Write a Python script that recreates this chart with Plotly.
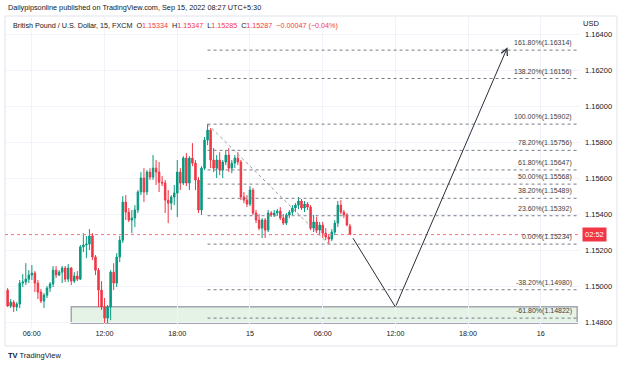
import plotly.graph_objects as go
import pandas as pd

# ---------------- data ----------------
opens = [1.14978,1.14889,1.14911,1.14884,1.14900,1.15017,1.15023,1.15039,1.15062,1.15073,
         1.15017,1.14967,1.14917,1.14950,1.14989,1.15012,1.15089,1.15062,1.15078,1.15101,
         1.15039,1.15101,1.15028,1.15056,1.15039,1.15218,1.15229,1.15234,1.15279,1.15162,
         1.15089,1.14978,1.14884,1.14822,1.14884,1.15078,1.15017,1.15162,1.15256,1.15468,
         1.15412,1.15368,1.15379,1.15424,1.15524,1.15602,1.15524,1.15635,1.15607,1.15657,
         1.15635,1.15579,1.15574,1.15479,1.15462,1.15496,1.15518,1.15635,1.15574,1.15713,
         1.15574,1.15713,1.15685,1.15591,1.15424,1.15657,1.15813,1.15869,1.15702,1.15657,
         1.15702,1.15646,1.15691,1.15730,1.15657,1.15685,1.15713,1.15691,1.15496,1.15479,
         1.15457,1.15535,1.15407,1.15368,1.15323,1.15368,1.15312,1.15407,1.15396,1.15407,
         1.15418,1.15379,1.15351,1.15396,1.15412,1.15435,1.15451,1.15474,1.15435,1.15457,
         1.15440,1.15323,1.15357,1.15312,1.15340,1.15295,1.15273,1.15262,1.15301,1.15351,
         1.15451,1.15412,1.15396,1.15334]
highs = [1.14989,1.14928,1.14922,1.14911,1.15034,1.15067,1.15128,1.15089,1.15117,1.15084,
         1.15034,1.14984,1.14961,1.15000,1.15023,1.15112,1.15112,1.15089,1.15112,1.15112,
         1.15123,1.15106,1.15078,1.15084,1.15229,1.15295,1.15279,1.15318,1.15295,1.15173,
         1.15101,1.15028,1.14934,1.14895,1.15089,1.15128,1.15184,1.15279,1.15501,1.15507,
         1.15435,1.15424,1.15451,1.15535,1.15635,1.15657,1.15646,1.15657,1.15730,1.15702,
         1.15691,1.15613,1.15591,1.15535,1.15507,1.15563,1.15702,1.15657,1.15724,1.15741,
         1.15724,1.15796,1.15702,1.15607,1.15668,1.15830,1.15902,1.15880,1.15769,1.15730,
         1.15746,1.15702,1.15758,1.15769,1.15702,1.15730,1.15746,1.15702,1.15524,1.15507,
         1.15557,1.15546,1.15424,1.15401,1.15379,1.15379,1.15424,1.15418,1.15424,1.15429,
         1.15440,1.15401,1.15407,1.15424,1.15451,1.15462,1.15496,1.15485,1.15474,1.15468,
         1.15451,1.15396,1.15385,1.15357,1.15357,1.15323,1.15290,1.15318,1.15368,1.15474,
         1.15479,1.15424,1.15407,1.15347]
lows = [1.14884,1.14878,1.14856,1.14861,1.14878,1.14995,1.15006,1.15017,1.15034,1.14967,
        1.14928,1.14906,1.14878,1.14934,1.14967,1.14995,1.15045,1.15056,1.15017,1.15023,
        1.15023,1.15006,1.15017,1.15028,1.15034,1.15190,1.15156,1.15201,1.15145,1.15062,
        1.14884,1.14867,1.14794,1.14794,1.14811,1.14978,1.14995,1.15134,1.15240,1.15368,
        1.15357,1.15295,1.15329,1.15407,1.15507,1.15468,1.15507,1.15591,1.15591,1.15563,
        1.15524,1.15557,1.15407,1.15351,1.15424,1.15451,1.15385,1.15535,1.15563,1.15557,
        1.15535,1.15668,1.15535,1.15407,1.15396,1.15646,1.15785,1.15657,1.15635,1.15602,
        1.15618,1.15602,1.15674,1.15635,1.15629,1.15657,1.15674,1.15479,1.15462,1.15440,
        1.15446,1.15396,1.15351,1.15312,1.15268,1.15268,1.15301,1.15385,1.15385,1.15390,
        1.15368,1.15340,1.15340,1.15379,1.15396,1.15412,1.15429,1.15424,1.15412,1.15424,
        1.15312,1.15301,1.15295,1.15284,1.15268,1.15256,1.15234,1.15251,1.15284,1.15329,
        1.15401,1.15379,1.15334,1.15285]
closes = [1.14889,1.14911,1.14884,1.14900,1.15017,1.15023,1.15039,1.15062,1.15073,1.15017,
          1.14967,1.14917,1.14950,1.14989,1.15012,1.15089,1.15062,1.15078,1.15101,1.15039,
          1.15101,1.15028,1.15056,1.15039,1.15218,1.15229,1.15234,1.15279,1.15162,1.15089,
          1.14978,1.14884,1.14822,1.14884,1.15078,1.15017,1.15162,1.15256,1.15468,1.15412,
          1.15368,1.15379,1.15424,1.15524,1.15602,1.15524,1.15635,1.15607,1.15657,1.15635,
          1.15579,1.15574,1.15479,1.15462,1.15496,1.15518,1.15635,1.15574,1.15713,1.15574,
          1.15713,1.15685,1.15591,1.15424,1.15657,1.15813,1.15869,1.15702,1.15657,1.15702,
          1.15646,1.15691,1.15730,1.15657,1.15685,1.15713,1.15691,1.15496,1.15479,1.15457,
          1.15535,1.15407,1.15368,1.15323,1.15368,1.15312,1.15407,1.15396,1.15407,1.15418,
          1.15379,1.15351,1.15396,1.15412,1.15435,1.15451,1.15474,1.15435,1.15457,1.15440,
          1.15323,1.15357,1.15312,1.15340,1.15295,1.15273,1.15262,1.15301,1.15351,1.15451,
          1.15412,1.15396,1.15340,1.15287]
first_bar = "2022-09-14 04:00"
times = pd.date_range(first_bar, periods=len(opens), freq="15min")

fib_pct = ["161.80%", "138.20%", "100.00%", "78.20%", "61.80%", "50.00%",
           "38.20%", "23.60%", "0.00%", "-38.20%", "-61.80%"]
fib_price = [1.16314, 1.16156, 1.15902, 1.15756, 1.15647, 1.15568,
             1.15489, 1.15392, 1.15234, 1.14980, 1.14822]
fib_start, fib_end = "2022-09-14 20:30", "2022-09-16 03:00"
trend_times = ["2022-09-14 20:30", "2022-09-15 06:30"]
trend_prices = [1.15902, 1.15234]

zone_times = ["2022-09-14 09:15", "2022-09-16 03:00"]
zone_prices = [1.14794, 1.14886]

path_times = ["2022-09-15 08:30", "2022-09-15 12:00", "2022-09-15 21:15"]
path_prices = [1.15267, 1.14884, 1.16330]

x_tick_vals = ["2022-09-14 06:00", "2022-09-14 12:00", "2022-09-14 18:00", "2022-09-15 00:00",
               "2022-09-15 06:00", "2022-09-15 12:00", "2022-09-15 18:00", "2022-09-16 00:00"]
x_tick_text = ["06:00", "12:00", "18:00", "15", "06:00", "12:00", "18:00", "16"]
y_tick_vals = [1.148, 1.150, 1.152, 1.154, 1.156, 1.158, 1.160, 1.162, 1.164]
y_tick_text = ["1.14800", "1.15000", "1.15200", "1.15400", "1.15600", "1.15800",
               "1.16000", "1.16200", "1.16400"]

last_price = 1.15287
countdown = "02:52"

# ---------------- figure ----------------
W, H = 625, 367
def px(x): return x / W
def py(y): return 1 - y / H

UP, DN = "#089981", "#f23645"
FONT = "Liberation Sans"
TXT = "#131722"

fig = go.Figure()
fig.add_trace(go.Candlestick(
    x=times, open=opens, high=highs, low=lows, close=closes,
    increasing=dict(line=dict(color=UP, width=1), fillcolor=UP),
    decreasing=dict(line=dict(color=DN, width=1), fillcolor=DN),
    whiskerwidth=0, hoverinfo="skip", showlegend=False))

shapes = []
shapes.append(dict(type="rect", xref="paper", yref="paper", x0=px(5), x1=px(617),
                   y0=py(346), y1=py(16), line=dict(color="#e0e3eb", width=1), layer="below"))
shapes.append(dict(type="rect", xref="x", yref="y", x0=zone_times[0], x1=zone_times[1],
                   y0=zone_prices[0], y1=zone_prices[1],
                   fillcolor="rgba(76,175,80,0.15)", line=dict(color="#a3a6af", width=1.5),
                   layer="below"))
shapes.append(dict(type="line", xref="paper", yref="y", x0=px(5), x1=px(580),
                   y0=last_price, y1=last_price, line=dict(color="#f7707c", width=1, dash="dot")))
for p in fib_price:
    shapes.append(dict(type="line", xref="x", yref="y", x0=fib_start, x1=fib_end,
                       y0=p, y1=p, line=dict(color="#787b86", width=1, dash="dot")))
shapes.append(dict(type="line", xref="x", yref="y", x0=trend_times[0], x1=trend_times[1],
                   y0=trend_prices[0], y1=trend_prices[1],
                   line=dict(color="#9598a1", width=1, dash="dot")))
shapes.append(dict(type="line", xref="x", yref="y", x0=path_times[0], x1=path_times[1],
                   y0=path_prices[0], y1=path_prices[1], line=dict(color="#2a2e39", width=1)))

ann = []
for lab, p in zip(fib_pct, fib_price):
    ann.append(dict(xref="paper", yref="y", x=px(574), y=p, text=f"{lab}({p:.5f})",
                    xanchor="right", yanchor="bottom", yshift=1, showarrow=False,
                    font=dict(family=FONT, size=7, color="#3a3d45")))
ann.append(dict(xref="x", yref="y", axref="x", ayref="y", x=path_times[2], y=path_prices[2],
                ax=path_times[1], ay=path_prices[1], showarrow=True, arrowhead=5,
                arrowsize=1.3, arrowwidth=1, arrowcolor="#2a2e39", text=""))
ann.append(dict(xref="paper", yref="paper", x=px(6), y=py(8),
                text="Dailypipsonline published on TradingView.com, Sep 15, 2022 08:27 UTC+5:30",
                xanchor="left", yanchor="middle", showarrow=False,
                font=dict(family=FONT, size=7.3, color=TXT)))
ann.append(dict(xref="paper", yref="paper", x=px(11), y=py(25),
                text=("British Pound / U.S. Dollar, 15, FXCM &nbsp;O<span style='color:#f23645'>1.15334</span>"
                      " &nbsp;H<span style='color:#f23645'>1.15347</span> &nbsp;L<span style='color:#f23645'>1.15285</span>"
                      " &nbsp;C<span style='color:#f23645'>1.15287</span> &nbsp;<span style='color:#f23645'>\u22120.00047 (\u22120.04%)</span>"),
                xanchor="left", yanchor="middle", showarrow=False,
                font=dict(family=FONT, size=7.2, color=TXT)))
ann.append(dict(xref="paper", yref="paper", x=px(591), y=py(24), text="USD",
                xanchor="center", yanchor="middle", showarrow=False, bgcolor="white",
                font=dict(family=FONT, size=7.5, color=TXT)))
ann.append(dict(xref="paper", yref="y", x=px(594), y=last_price, text=countdown,
                xanchor="center", yanchor="middle", showarrow=False, bgcolor=DN,
                borderpad=2, font=dict(family=FONT, size=7.5, color="white")))
ann.append(dict(xref="paper", yref="paper", x=px(6), y=py(355),
                text="<b>TV</b> TradingView", xanchor="left", yanchor="middle", showarrow=False,
                font=dict(family=FONT, size=7.5, color=TXT)))

fig.update_layout(
    width=W, height=H, margin=dict(l=0, r=0, t=0, b=0),
    paper_bgcolor="white", plot_bgcolor="white",
    shapes=shapes, annotations=ann, showlegend=False, hovermode=False,
    xaxis=dict(domain=[px(5), px(580)], type="date",
               range=["2022-09-14 03:47", "2022-09-16 03:14"],
               tickvals=x_tick_vals, ticktext=x_tick_text, showgrid=True,
               gridcolor="#f0f3fa", gridwidth=1, zeroline=False, showline=False,
               ticks="", tickfont=dict(family=FONT, size=7.2, color=TXT),
               rangeslider=dict(visible=False), fixedrange=True),
    yaxis=dict(domain=[py(328), py(16)], side="right", range=[1.14767, 1.16504],
               tickvals=y_tick_vals, ticktext=y_tick_text, showgrid=True,
               gridcolor="#f0f3fa", gridwidth=1, zeroline=False, showline=False,
               ticks="", ticklabelstandoff=4,
               tickfont=dict(family=FONT, size=7.5, color=TXT), fixedrange=True),
)

fig.write_html("out.html")
